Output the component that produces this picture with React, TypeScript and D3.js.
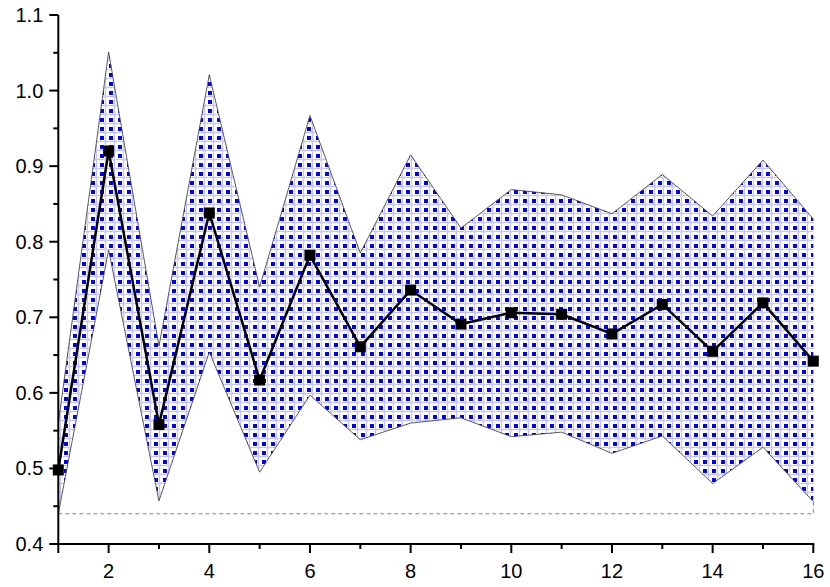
import React from "react";
import * as d3 from "d3";

// values
const xs = [1, 2, 3, 4, 5, 6, 7, 8, 9, 10, 11, 12, 13, 14, 15, 16];
const meanValues = [0.498, 0.92, 0.558, 0.838, 0.617, 0.782, 0.661, 0.736, 0.691, 0.706, 0.704, 0.678, 0.717, 0.655, 0.719, 0.642];
const upperValues = [0.56, 1.051, 0.662, 1.021, 0.74, 0.967, 0.785, 0.915, 0.818, 0.869, 0.862, 0.837, 0.889, 0.834, 0.908, 0.83];
const lowerValues = [0.44, 0.789, 0.457, 0.654, 0.495, 0.597, 0.538, 0.56, 0.567, 0.542, 0.548, 0.52, 0.543, 0.48, 0.528, 0.456];
const baseValue = 0.44;
const yTicks = [0.4, 0.5, 0.6, 0.7, 0.8, 0.9, 1.0, 1.1];
const xTicks = [2, 4, 6, 8, 10, 12, 14, 16];

const W = 830;
const H = 587;
const FONT = "'Liberation Sans', Arial, sans-serif";

export default function App() {
  const x = d3.scaleLinear().domain([1, 16]).range([58.3, 813.3]);
  const y = d3.scaleLinear().domain([0.4, 1.1]).range([544, 15]);

  const band = xs.map((v, i) => ({ x: v, lo: lowerValues[i], hi: upperValues[i], m: meanValues[i] }));

  const area = d3
    .area<any>()
    .x((d) => x(d.x))
    .y0((d) => y(d.lo))
    .y1((d) => y(d.hi));
  const upperLine = d3.line<any>().x((d) => x(d.x)).y((d) => y(d.hi));
  const lowerLine = d3.line<any>().x((d) => x(d.x)).y((d) => y(d.lo));
  const meanLine = d3.line<any>().x((d) => x(d.x)).y((d) => y(d.m));

  const last = band[band.length - 1];
  const dashed = d3.line<[number, number]>()([
    [x(1), y(baseValue)],
    [x(16), y(baseValue)],
    [x(16), y(last.lo)],
  ]);

  const yMinor = d3.range(0.45, 1.1, 0.1);
  const xMinor = d3.range(1, 16, 2).slice(1);
  const x0 = x(1);
  const yb = y(0.4);

  return (
    <svg width={W} height={H} style={{ position: "absolute", left: 0, top: 0, background: "#fff" }}>
      <defs>
        {/* blue squares on a light lattice, like the Origin fill */}
        <pattern id="checks" patternUnits="userSpaceOnUse" width={9} height={9}>
          <rect width={9} height={9} fill="#fff" />
          <path d="M0,6.5H9M6.5,0V9" stroke="#c0c0ff" strokeWidth={1} />
          <path d="M5,5.5H8M5,7.5H8M5.5,5V8M7.5,5V8" stroke="#d4d4ff" strokeWidth={1} />
          <rect x={1} y={1} width={4} height={4} fill="#0000ff" />
        </pattern>
      </defs>

      {/* band */}
      <path d={area(band) || ""} fill="url(#checks)" />
      <path d={dashed || ""} fill="none" stroke="#7777ff" strokeWidth={1} strokeDasharray="4,3" />
      <path d={upperLine(band) || ""} fill="none" stroke="#333" strokeWidth={0.8} />
      <path d={lowerLine(band) || ""} fill="none" stroke="#333" strokeWidth={0.8} />

      {/* axes */}
      <g stroke="#000" strokeWidth={2} fill="none">
        <line x1={x0} x2={x0} y1={y(1.1)} y2={yb + 1} />
        <line x1={x0 - 1} x2={x(16) + 1} y1={yb} y2={yb} />
        {yTicks.map((t) => (
          <line key={"yt" + t} x1={x0 - 9} x2={x0} y1={y(t)} y2={y(t)} />
        ))}
        {yMinor.map((t) => (
          <line key={"ym" + t} x1={x0 - 5} x2={x0} y1={y(t)} y2={y(t)} />
        ))}
        {[1, ...xTicks].map((t) => (
          <line key={"xt" + t} x1={x(t)} x2={x(t)} y1={yb} y2={yb + 9} />
        ))}
        {xMinor.map((t) => (
          <line key={"xm" + t} x1={x(t)} x2={x(t)} y1={yb} y2={yb + 5} />
        ))}
      </g>
      <g fontFamily={FONT} fontSize={20} fill="#000">
        {yTicks.map((t) => (
          <text key={"yl" + t} x={x0 - 15} y={y(t)} dy="0.35em" textAnchor="end">
            {t.toFixed(1)}
          </text>
        ))}
        {xTicks.map((t) => (
          <text key={"xl" + t} x={x(t)} y={yb + 34} textAnchor="middle">
            {t}
          </text>
        ))}
      </g>

      {/* mean */}
      <path d={meanLine(band) || ""} fill="none" stroke="#000" strokeWidth={2.5} />
      {band.map((d) => (
        <rect key={"m" + d.x} x={x(d.x) - 5.5} y={y(d.m) - 5.5} width={11} height={11} fill="#000" />
      ))}
    </svg>
  );
}
